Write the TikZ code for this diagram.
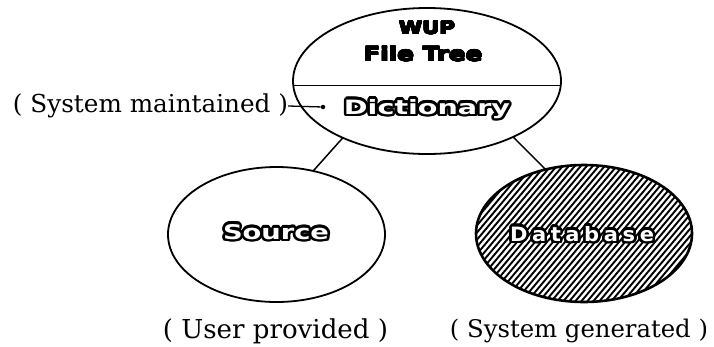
\documentclass[tikz,border=0pt]{standalone}
\usepackage{fontspec}
\usepackage{graphicx}
\usetikzlibrary{shapes.geometric,calc}
\setmainfont{DejaVu Serif}
\newfontfamily\headfont{DejaVu Sans}
\newfontfamily\spacedfont{DejaVu Sans}[LetterSpace=22]

\tikzset{
  blob/.style={ellipse, draw, line width=1.8pt, inner sep=0pt, outer sep=0pt},
  link/.style={line width=1.5pt},
  remark/.style={inner sep=0pt, font=\fontsize{22}{24}\selectfont},
  headtxt/.style={inner sep=0pt, font=\headfont\bfseries\fontsize{20}{22}\selectfont},
}

% a box of text laid over black copies of itself shifted round a circle:
% #1 rim radius, #2 colour of the letters, #3 the text
\newsavebox\rimbox
\newcommand{\rimmed}[3]{%
  \setbox\rimbox\hbox{#3}%
  \makebox[\wd\rimbox][l]{%
    \foreach \k in {1,...,16}{%
      \pgfmathsetlengthmacro\dx{#1*cos(\k*22.5)}%
      \pgfmathsetlengthmacro\dy{#1*sin(\k*22.5)}%
      \rlap{\hspace*{\dx}\raisebox{\dy}{\color{black}\copy\rimbox}}%
    }%
    {\color{#2}\copy\rimbox}}%
}

\begin{document}
\begin{tikzpicture}[x=1pt,y=-1pt]
\useasboundingbox (0,0) rectangle (714,346);

% the three files
\node[blob, minimum width=268pt, minimum height=146pt] (tree) at (427,81) {};
\node[blob, minimum width=217pt, minimum height=135pt] (src) at (276.5,234.5) {};
\node[ellipse, inner sep=0pt, outer sep=0pt, minimum width=216pt, minimum height=137pt] (db) at (584,233.5) {};

% hatching of the generated database
\begin{scope}
  \clip (584,233.5) ellipse (108 and 68.5);
  \foreach \x in {400,406,...,730}{
    \draw[line width=1.9pt] (\x,310) -- (\x+130,155);
  }
\end{scope}
\draw[line width=2.6pt] (584,233.5) ellipse (108 and 68.5);

% divider of the file tree
\draw[line width=1.4pt] (tree.182) -- (tree.358);

% links between the files
\draw[link] (tree.214) -- (src.60);
\draw[link] (tree.327) -- (db.121);

% titles in heavy lettering
\node[headtxt] (wup) at (427,28) {\rimmed{0.6pt}{black}{\resizebox{56pt}{13pt}{WUP}}};
\node[headtxt] (ftree) at (423,54) {\rimmed{0.6pt}{black}{\resizebox{119pt}{15pt}{File Tree}}};

% white lettering with a heavy black rim
\node[headtxt] (dict) at (427,109)
  {\rimmed{2.6pt}{white}{\resizebox{166pt}{15pt}{Dictionary}}};
\node[headtxt] (source) at (276,232)
  {\rimmed{2.6pt}{white}{\resizebox{106pt}{15pt}{Source}}};
\node[headtxt] (dbase) at (582,234)
  {\rimmed{2.6pt}{white}{\resizebox{144pt}{15pt}{\spacedfont\bfseries Database}}};

% annotations
\node[remark] (sysm) at (150.5,106) {\resizebox{275pt}{!}{( System maintained )}};
\node[circle, fill=black, inner sep=0pt, minimum size=4.5pt] (dot) at (323,107) {};
\draw[line width=1.3pt] (sysm.east) -- (dot);

\node[remark] (userp) at (275.5,331) {\resizebox{225pt}{!}{( User provided )}};
\node[remark] (sysg) at (579,331) {\resizebox{258pt}{!}{( System generated )}};
\end{tikzpicture}
\end{document}
